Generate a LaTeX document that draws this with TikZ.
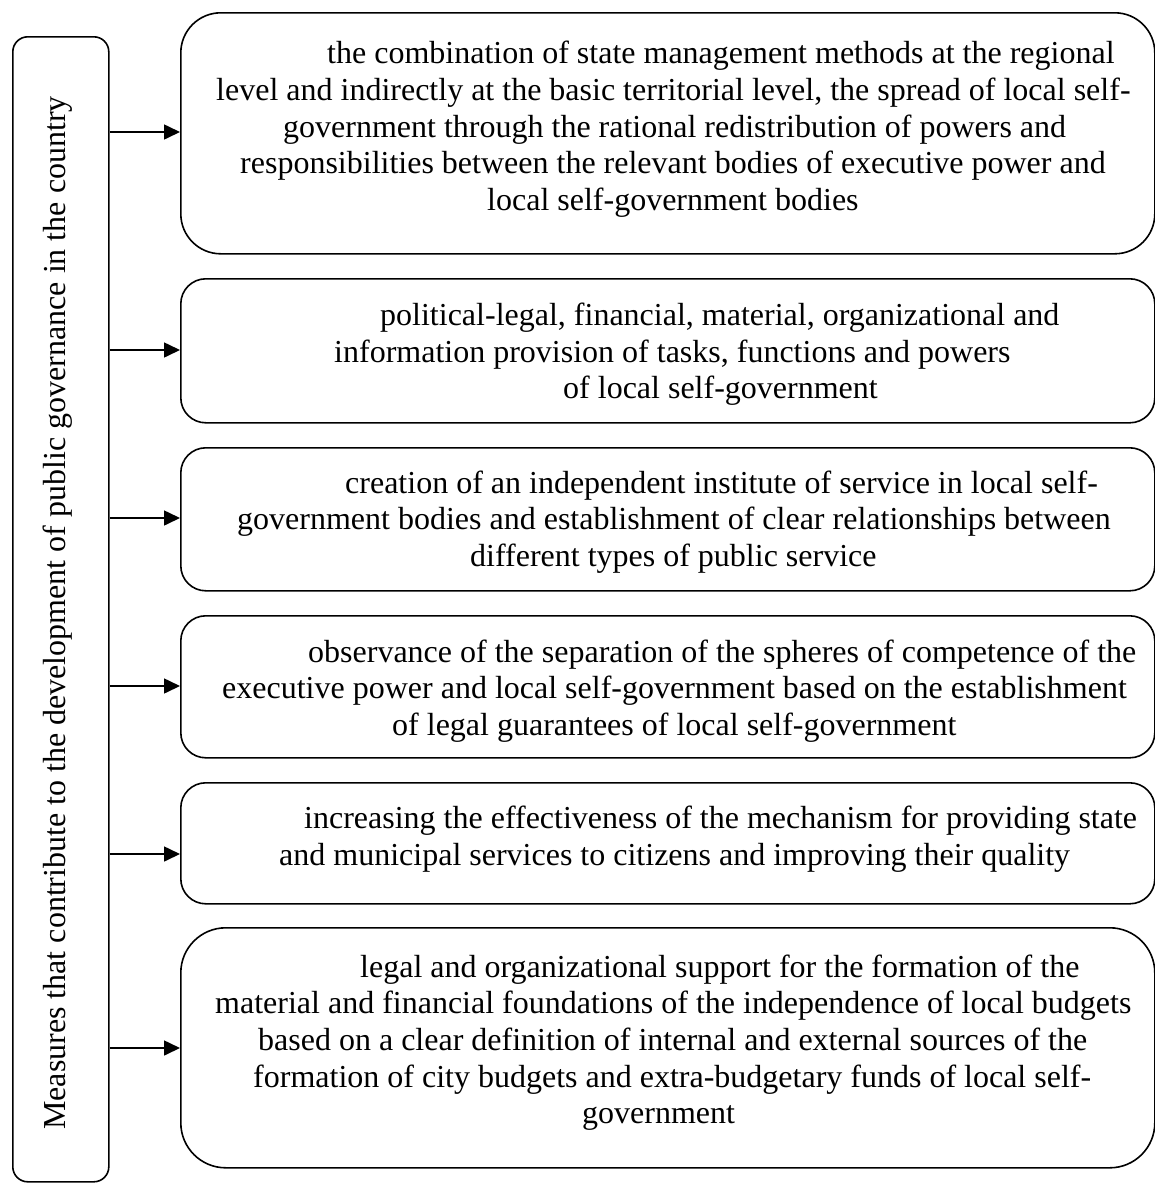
\documentclass[tikz,border=0pt]{standalone}
\usepackage{fontspec}
\setmainfont{Liberation Serif}
\usetikzlibrary{arrows.meta}
\begin{document}
\begin{tikzpicture}[x=1pt,y=1pt,
  boxst/.style={draw, line width=1.6pt, rectangle},
  ln/.style={anchor=base west, inner sep=0pt, font=\fontsize{32}{36.5}\selectfont},
  arr/.style={line width=1.6pt, -{Triangle[length=16pt,width=15pt]}}]
\useasboundingbox (0,0) rectangle (1155,-1184);
% left box
\node[boxst, rounded corners=15pt, minimum width=96pt, minimum height=1145pt, anchor=north west] (L) at (12,-36) {};
\node[rotate=90, anchor=base west, inner sep=0pt, font=\fontsize{32}{36}\selectfont] (m) at (65,-1130) {Measures that contribute to the development of public governance in the country};
% right boxes
\node[boxst, rounded corners=40pt, minimum width=974pt, minimum height=241pt, anchor=north west] (b1) at (180,-12) {};
\node[boxst, rounded corners=25pt, minimum width=974pt, minimum height=144pt, anchor=north west] (b2) at (180,-278) {};
\node[boxst, rounded corners=25pt, minimum width=974pt, minimum height=143pt, anchor=north west] (b3) at (180,-447) {};
\node[boxst, rounded corners=25pt, minimum width=974pt, minimum height=142pt, anchor=north west] (b4) at (180,-615) {};
\node[boxst, rounded corners=25pt, minimum width=974pt, minimum height=121pt, anchor=north west] (b5) at (180,-782) {};
\node[boxst, rounded corners=45pt, minimum width=974pt, minimum height=240pt, anchor=north west] (b6) at (180,-927) {};
% texts
\node[ln] (t1a) at (327,-63) {the combination of state management methods at the regional};
\node[ln] (t1b) at (216,-100) {level and indirectly at the basic territorial level, the spread of local self-};
\node[ln] (t1c) at (283,-137) {government through the rational redistribution of powers and};
\node[ln] (t1d) at (240,-173) {responsibilities between the relevant bodies of executive power and};
\node[ln] (t1e) at (487,-210) {local self-government bodies};
\node[ln] (t2a) at (380,-325) {political-legal, financial, material, organizational and};
\node[ln] (t2b) at (334,-362) {information provision of tasks, functions and powers};
\node[ln] (t2c) at (563,-398) {of local self-government};
\node[ln] (t3a) at (345,-493) {creation of an independent institute of service in local self-};
\node[ln] (t3b) at (237,-529) {government bodies and establishment of clear relationships between};
\node[ln] (t3c) at (470,-566) {different types of public service};
\node[ln] (t4a) at (308,-662) {observance of the separation of the spheres of competence of the};
\node[ln] (t4b) at (222,-698) {executive power and local self-government based on the establishment};
\node[ln] (t4c) at (392,-735) {of legal guarantees of local self-government};
\node[ln] (t5a) at (304,-828) {increasing the effectiveness of the mechanism for providing state};
\node[ln] (t5b) at (279,-865) {and municipal services to citizens and improving their quality};
\node[ln] (t6a) at (360,-977) {legal and organizational support for the formation of the};
\node[ln] (t6b) at (215,-1013) {material and financial foundations of the independence of local budgets};
\node[ln] (t6c) at (258,-1050) {based on a clear definition of internal and external sources of the};
\node[ln] (t6d) at (253,-1087) {formation of city budgets and extra-budgetary funds of local self-};
\node[ln] (t6e) at (582,-1123) {government};
% arrows
\coordinate (y1) at (0,-132);
\coordinate (y2) at (0,-350);
\coordinate (y3) at (0,-518);
\coordinate (y4) at (0,-686);
\coordinate (y5) at (0,-854);
\coordinate (y6) at (0,-1048);
\foreach \i in {1,...,6} {
  \draw[arr] (L.east |- y\i) -- (b\i.west |- y\i);
}
\end{tikzpicture}
\end{document}
